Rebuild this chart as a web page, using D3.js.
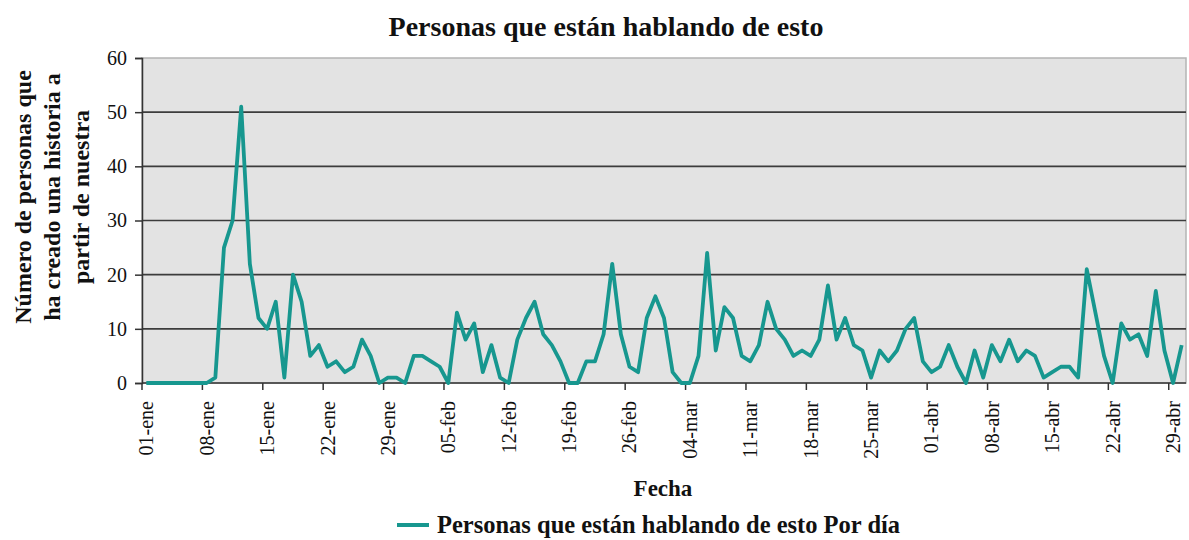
<!DOCTYPE html>
<html>
<head>
<meta charset="utf-8">
<script src="https://cdn.jsdelivr.net/npm/d3@7"></script>
<style>
  body { margin: 0; background: #fff; }
  svg text { font-family: "Liberation Serif", "Times New Roman", serif; }
</style>
</head>
<body>
<div id="chart"></div>
<script>
const TITLE = "Personas que están hablando de esto"
const SERIES_NAME = "Personas que están hablando de esto Por día"
const Y_LABEL = ["Número de personas que", "ha creado una historia a", "partir de nuestra"]
const X_LABEL = "Fecha"

const START_DATE = new Date(2012, 0, 1)
const MONTHS = ["ene", "feb", "mar", "abr"]
const Y_TICKS = [0, 10, 20, 30, 40, 50, 60]

// one value per day, 01-ene .. 30-abr
const values = [
  0, 0, 0, 0, 0, 0, 0, 0, 1, 25, 30, 51, 22, 12, 10, 15, 1, 20, 15, 5,
  7, 3, 4, 2, 3, 8, 5, 0, 1, 1, 0, 5, 5, 4, 3, 0, 13, 8, 11, 2,
  7, 1, 0, 8, 12, 15, 9, 7, 4, 0, 0, 4, 4, 9, 22, 9, 3, 2, 12, 16,
  12, 2, 0, 0, 5, 24, 6, 14, 12, 5, 4, 7, 15, 10, 8, 5, 6, 5, 8, 18,
  8, 12, 7, 6, 1, 6, 4, 6, 10, 12, 4, 2, 3, 7, 3, 0, 6, 1, 7, 4,
  8, 4, 6, 5, 1, 2, 3, 3, 1, 21, 13, 5, 0, 11, 8, 9, 5, 17, 6, 0,
  7
]

const FONT = "Liberation Serif, Times New Roman, serif"
const W = 1189, H = 540
const MARGIN = { TOP: 58, BOTTOM: 157, LEFT: 142, RIGHT: 3 }
const WIDTH = W - MARGIN.LEFT - MARGIN.RIGHT
const HEIGHT = H - MARGIN.TOP - MARGIN.BOTTOM

const days = values.map((v, i) => {
  const d = new Date(START_DATE)
  d.setDate(d.getDate() + i)
  return d
})
const fmt = d => d3.timeFormat("%d")(d) + "-" + MONTHS[d.getMonth()]

const svg = d3.select("#chart").append("svg")
  .attr("width", W)
  .attr("height", H)

const g = svg.append("g")
  .attr("transform", `translate(${MARGIN.LEFT}, ${MARGIN.TOP})`)

// category (day) band scale, points at band centre
const x = d3.scaleBand()
  .domain(d3.range(values.length))
  .range([0, WIDTH])
  .padding(0)

const y = d3.scaleLinear()
  .domain([0, 60])
  .range([HEIGHT, 0])

g.append("rect")
  .attr("width", WIDTH)
  .attr("height", HEIGHT)
  .attr("fill", "#e3e3e3")
  .attr("stroke", "#b4b4b4")
  .attr("stroke-width", 1.5)

// gridlines
g.selectAll(".grid")
  .data(Y_TICKS.filter(t => t > 0 && t < 60))
  .enter().append("line")
    .attr("x1", 0)
    .attr("x2", WIDTH)
    .attr("y1", d => y(d))
    .attr("y2", d => y(d))
    .attr("stroke", "#3c3c3c")
    .attr("stroke-width", 1.6)

// y axis
const yAxis = g.append("g")
  .call(d3.axisLeft(y).tickValues(Y_TICKS).tickSize(7).tickPadding(8))
  .attr("font-family", FONT)
yAxis.select(".domain").attr("stroke", "#333").attr("stroke-width", 1.5)
yAxis.selectAll(".tick line").attr("stroke", "#333").attr("stroke-width", 1.5)
yAxis.selectAll("text")
  .attr("font-size", "20px")
  .attr("fill", "#111")

// x axis: ticks at weekly category boundaries
const weekIdx = d3.range(0, values.length, 7)
const xAxisG = g.append("g").attr("transform", `translate(0, ${HEIGHT})`)
xAxisG.append("line")
  .attr("x1", 0).attr("x2", WIDTH)
  .attr("stroke", "#333").attr("stroke-width", 1.5)
xAxisG.selectAll(".xtick")
  .data(weekIdx)
  .enter().append("line")
    .attr("x1", d => x(d))
    .attr("x2", d => x(d))
    .attr("y1", 0)
    .attr("y2", 7)
    .attr("stroke", "#333")
    .attr("stroke-width", 1.5)
xAxisG.selectAll(".xlabel")
  .data(weekIdx)
  .enter().append("text")
    .attr("transform", d => `translate(${x(d) + x.bandwidth() / 2 + 7}, 18) rotate(-90)`)
    .attr("text-anchor", "end")
    .attr("font-family", FONT)
    .attr("font-size", "20px")
    .attr("fill", "#111")
    .text(d => fmt(days[d]))

// line
const line = d3.line()
  .x((d, i) => x(i) + x.bandwidth() / 2)
  .y(d => y(d))

g.append("path")
  .datum(values)
  .attr("fill", "none")
  .attr("stroke", "#17978f")
  .attr("stroke-width", 3.8)
  .attr("stroke-linejoin", "round")
  .attr("d", line)

// title
svg.append("text")
  .attr("x", 606)
  .attr("y", 36)
  .attr("text-anchor", "middle")
  .attr("font-family", FONT)
  .attr("font-size", "28px")
  .attr("font-weight", "bold")
  .attr("fill", "#111")
  .text(TITLE)

// y label
const yl = svg.append("text")
  .attr("transform", "translate(0, 197) rotate(-90)")
  .attr("text-anchor", "middle")
  .attr("font-family", FONT)
  .attr("font-size", "24px")
  .attr("font-weight", "bold")
  .attr("fill", "#111")
Y_LABEL.forEach((t, i) => {
  yl.append("tspan")
    .attr("x", 0)
    .attr("y", 31 + i * 29)
    .text(t)
})

// x label
svg.append("text")
  .attr("x", 663)
  .attr("y", 496)
  .attr("text-anchor", "middle")
  .attr("font-family", FONT)
  .attr("font-size", "23px")
  .attr("font-weight", "bold")
  .attr("fill", "#111")
  .text(X_LABEL)

// legend
const leg = svg.append("g").attr("transform", "translate(397, 525)")
leg.append("line")
  .attr("x1", 0).attr("x2", 32)
  .attr("stroke", "#17978f")
  .attr("stroke-width", 4)
leg.append("text")
  .attr("x", 40)
  .attr("y", 8)
  .attr("font-family", FONT)
  .attr("font-size", "24.5px")
  .attr("font-weight", "bold")
  .attr("fill", "#111")
  .text(SERIES_NAME)
</script>
</body>
</html>
